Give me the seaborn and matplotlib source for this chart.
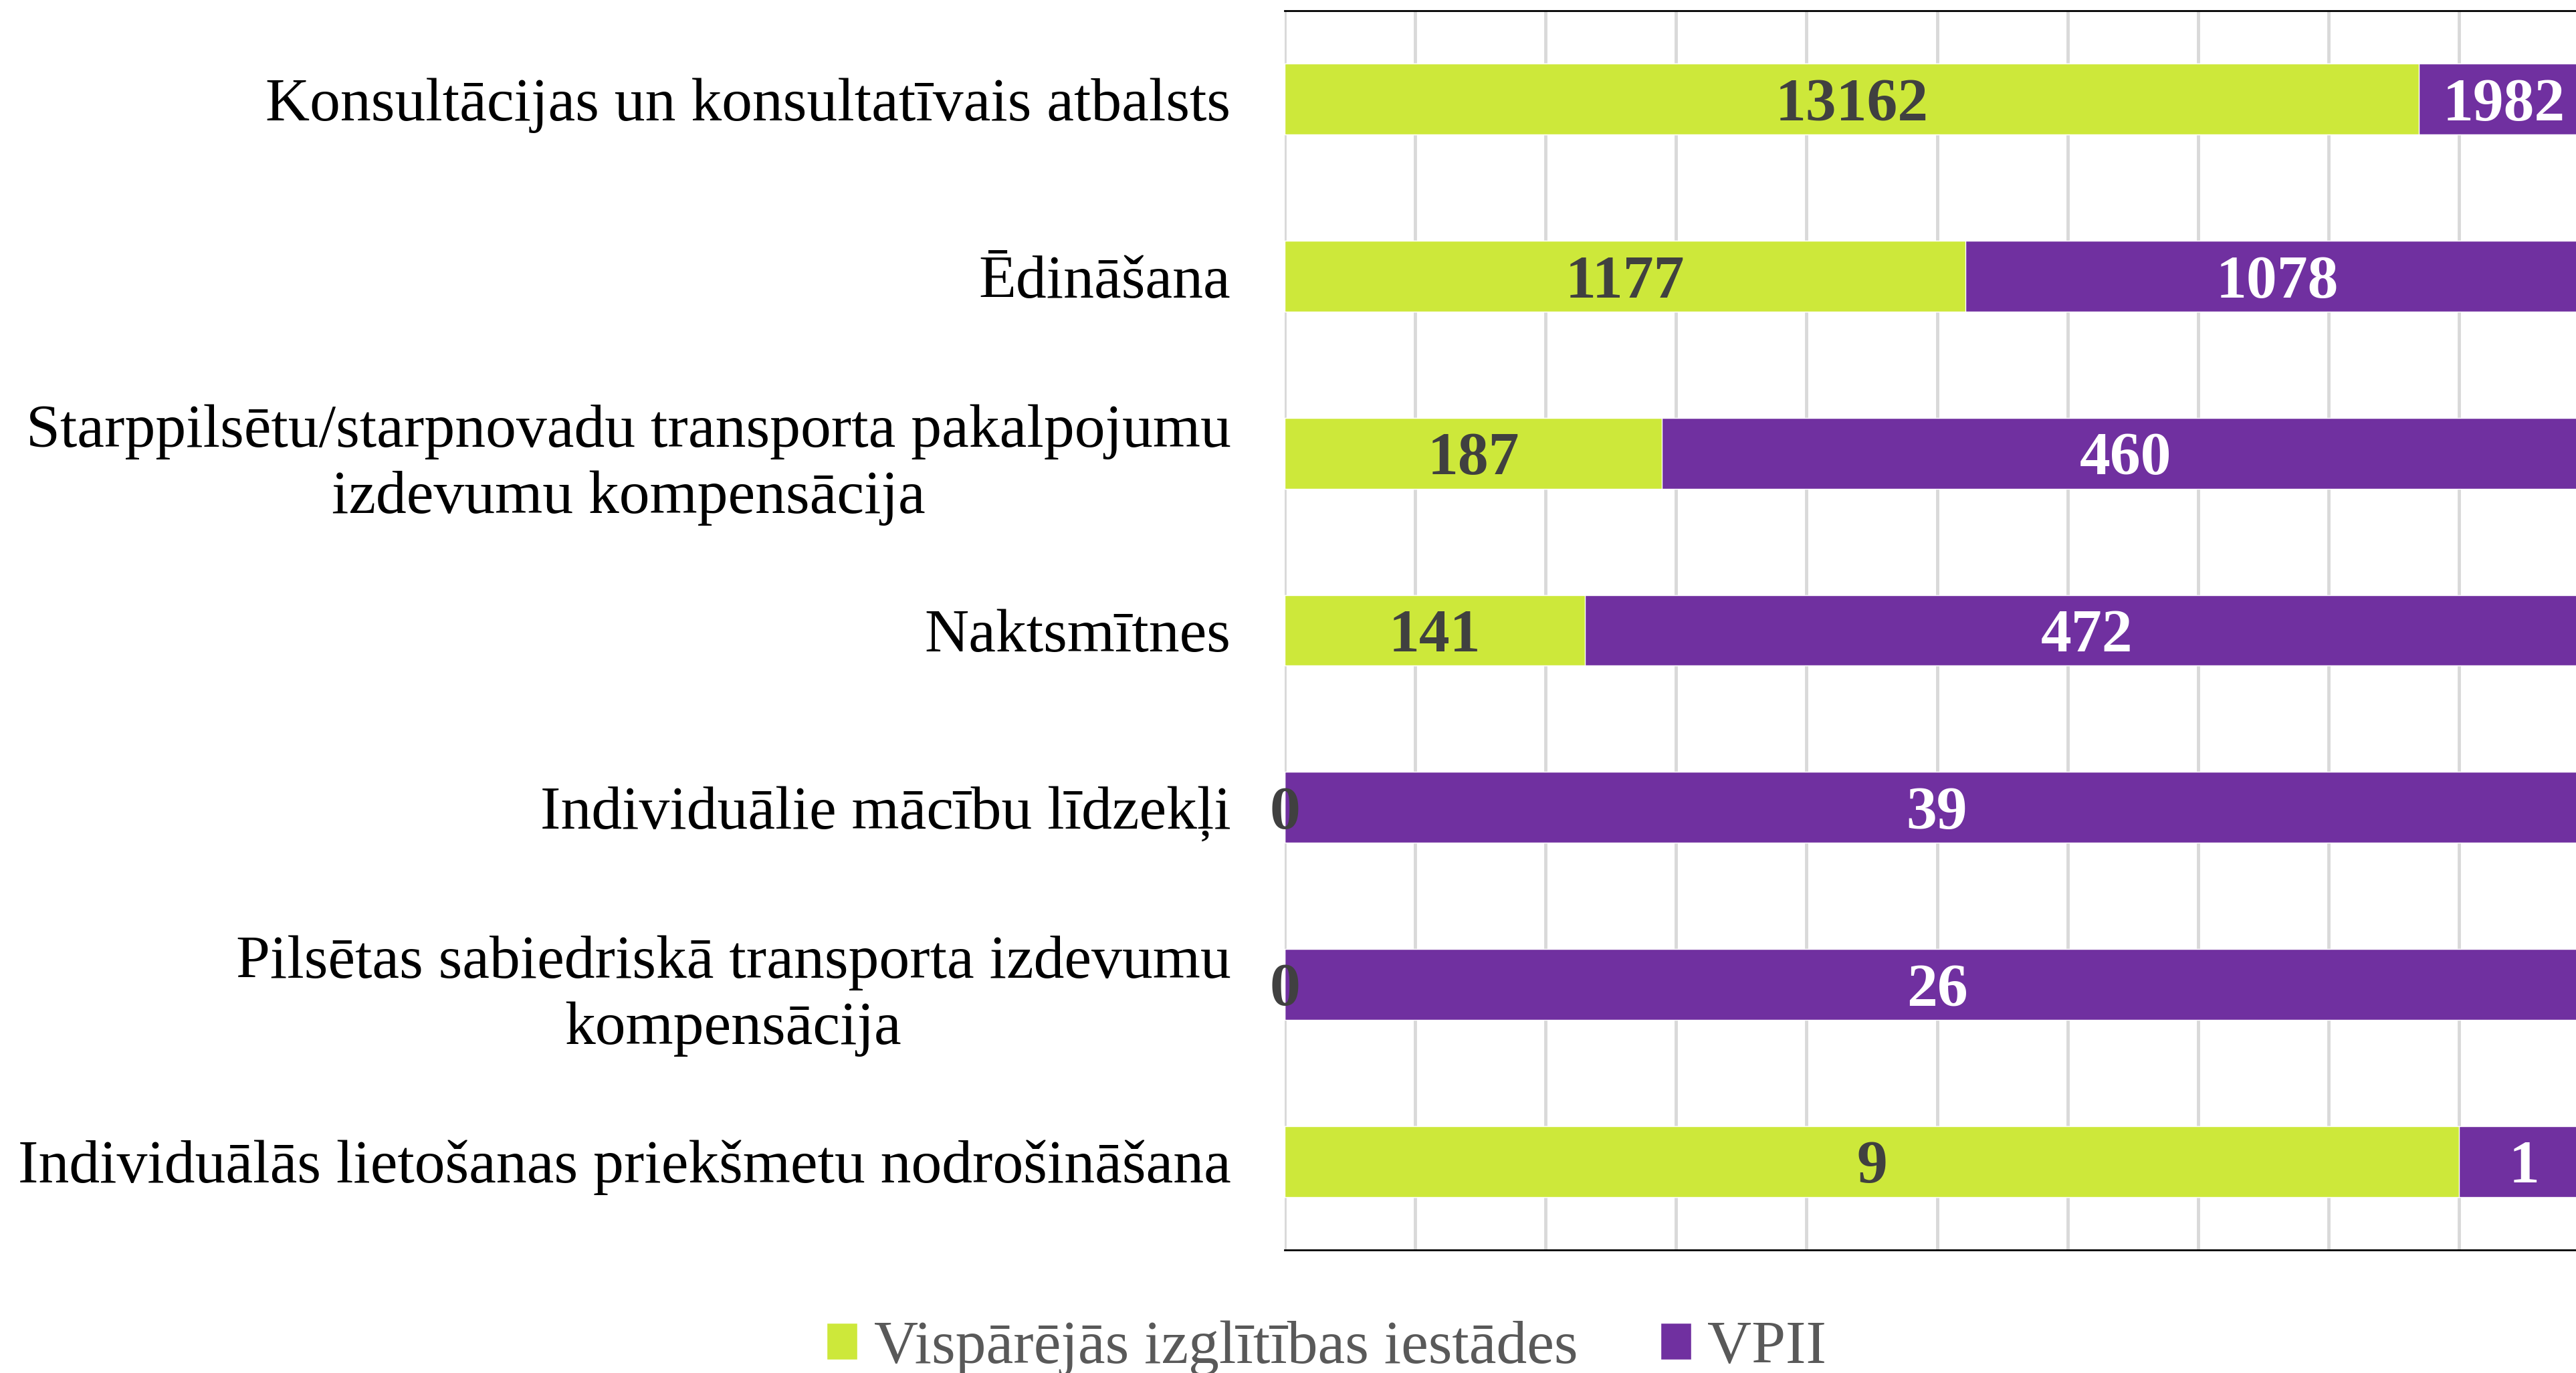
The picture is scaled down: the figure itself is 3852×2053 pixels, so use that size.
import numpy as np
import pandas as pd
import seaborn as sns
import matplotlib.pyplot as plt
from matplotlib.patches import Patch

# dati
kategorijas = [
    "Konsultācijas un konsultatīvais atbalsts",
    "Ēdināšana",
    "Starppilsētu/starpnovadu transporta pakalpojumu\nizdevumu kompensācija",
    "Naktsmītnes",
    "Individuālie mācību līdzekļi",
    "Pilsētas sabiedriskā transporta izdevumu\nkompensācija",
    "Individuālās lietošanas priekšmetu nodrošināšana",
]
visparejas = [13162, 1177, 187, 141, 0, 0, 9]
vpii = [1982, 1078, 460, 472, 39, 26, 1]
serijas = ["Vispārējās izglītības iestādes", "VPII"]

ZALS = "#CDE83A"
VIOLETS = "#7030A0"
FS = 66

df = pd.DataFrame({"kategorija": kategorijas, "visp": visparejas, "vpii": vpii})
df["kopa"] = df["visp"] + df["vpii"]
df["dala_visp"] = df["visp"] / df["kopa"]
df["dala_kopa"] = df["kopa"] / df["kopa"]

sns.set_style("white")
plt.rcParams["font.family"] = ["Liberation Serif", "DejaVu Serif"]

fig = plt.figure(figsize=(38.52, 20.53), dpi=100)
ax = fig.add_axes([0.4987, 0.0896, 0.5065, 0.9026])

# 100% josla (VPII) un virs tās vispārējo iestāžu daļa
sns.barplot(data=df, y="kategorija", x="dala_kopa", color=VIOLETS, saturation=1,
            width=0.4, orient="h", ax=ax)
sns.barplot(data=df, y="kategorija", x="dala_visp", color=ZALS, saturation=1,
            width=0.4, orient="h", ax=ax)

# vērtību etiķetes
for i, row in df.iterrows():
    ax.text(row["dala_visp"] / 2, i, str(row["visp"]), ha="center", va="center_baseline",
            fontsize=FS, fontweight="bold", color="#404040")
    ax.text(row["dala_visp"] + (1 - row["dala_visp"]) / 2, i, str(row["vpii"]),
            ha="center", va="center_baseline", fontsize=FS, fontweight="bold", color="white")

ax.set_xlim(0, 1)
ax.set_ylim(len(kategorijas) - 0.5, -0.5)
ax.set_xticks(np.arange(0, 1.01, 0.1))
ax.set_xticklabels([])
ax.grid(axis="x", color="#D9D9D9", linewidth=3.5)
ax.set_axisbelow(True)
ax.set_xlabel("")
ax.set_ylabel("")
ax.tick_params(axis="y", length=0, pad=58, labelsize=FS, labelcolor="black")
ax.tick_params(axis="x", length=0)
for lbl in ax.get_yticklabels():
    lbl.set_multialignment("center")
    lbl.set_linespacing(1.25)

for s in ["left", "right"]:
    ax.spines[s].set_visible(False)
for s in ["top", "bottom"]:
    ax.spines[s].set_color("black")
    ax.spines[s].set_linewidth(2)

rokturi = [Patch(facecolor=ZALS, label=serijas[0]), Patch(facecolor=VIOLETS, label=serijas[1])]
fig.legend(handles=rokturi, loc="center", bbox_to_anchor=(0.515, 0.018), ncol=2,
           frameon=False, fontsize=FS, labelcolor="#595959",
           handlelength=0.5, handleheight=0.55, handletextpad=0.27, columnspacing=1.35)

fig.savefig("out.png", dpi=100)
